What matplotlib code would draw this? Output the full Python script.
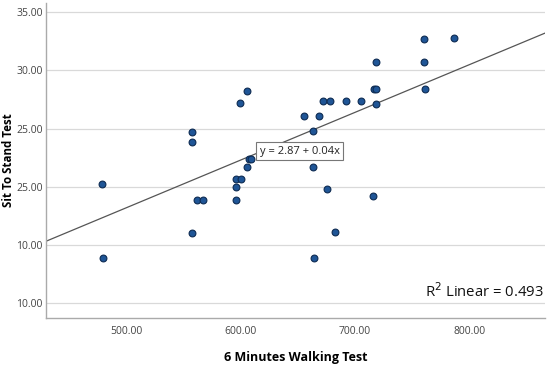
import numpy as np
import matplotlib
matplotlib.use("Agg")
import matplotlib.pyplot as plt

plt.rcParams['font.family'] = ['Open Sans', 'DejaVu Sans']

walk = [478.8, 480.0, 558.0, 558.0, 558.0, 561.6, 566.8, 596.2, 596.2, 596.2,
        600.6, 599.4, 606.0, 605.5, 607.3, 609.3, 655.2, 663.1, 663.1, 664.2,
        668.6, 671.8, 675.5, 678.2, 682.9, 692.1, 704.9, 715.7, 716.5, 718.6,
        718.3, 718.0, 760.0, 760.0, 761.0, 786.3]
stand = [20.2, 13.9, 24.7, 23.8, 16.0, 18.85, 18.85, 18.85, 20.0, 20.7,
         20.7, 27.2, 28.2, 21.7, 22.4, 22.4, 26.1, 24.75, 21.7, 13.9,
         26.1, 27.4, 19.8, 27.4, 16.1, 27.4, 27.4, 19.2, 28.4, 28.4,
         27.1, 30.7, 32.7, 30.7, 28.4, 32.8]

# fit line as drawn in the reference
fit_intercept = -2.35
fit_slope = 0.04106

yticks = [35, 30, 25, 20, 15, 10]
ytick_labels = ["35.00", "30.00", "25.00", "25.00", "10.00", "10.00"]
xticks = [500, 600, 700, 800]
xtick_labels = ["500.00", "600.00", "700.00", "800.00"]

fig = plt.figure(figsize=(5.5, 3.69), dpi=100)
ax = fig.add_axes([0.0836, 0.138, 0.9074, 0.854])
xlim = (430, 866)
ax.set_xlim(*xlim)
ax.set_ylim(8.7, 35.8)

ax.yaxis.grid(True, color='#d9d9d9', linewidth=0.9)
ax.set_axisbelow(True)

xs = np.array(xlim)
ax.plot(xs, fit_intercept + fit_slope * xs, color='#555555', linewidth=0.9, zorder=2)

ax.scatter(walk, stand, s=24, color='#1f5596', edgecolors='#0d2b52',
           linewidths=0.8, zorder=3)

ax.set_xticks(xticks)
ax.set_xticklabels(xtick_labels)
ax.set_yticks(yticks)
ax.set_yticklabels(ytick_labels)
ax.tick_params(axis='y', length=0, labelsize=7.5, colors='#444444', pad=2.5)
ax.tick_params(axis='x', length=0, labelsize=7.5, colors='#444444', pad=6)

for s in ['top', 'right']:
    ax.spines[s].set_visible(False)
for s in ['left', 'bottom']:
    ax.spines[s].set_color('#aaaaaa')
    ax.spines[s].set_linewidth(1.0)

ax.set_xlabel("6 Minutes Walking Test", fontsize=9, fontweight='bold')
ax.xaxis.set_label_coords(0.5, -0.105)
ax.set_ylabel("Sit To Stand Test", fontsize=8.3, fontweight='bold')
ax.yaxis.set_label_coords(-0.062, 0.5)

ax.text(651.7, 23.06, "y = 2.87 + 0.04x", fontsize=8, ha='center', va='center',
        color='#222222', zorder=4,
        bbox=dict(boxstyle='square,pad=0.3', facecolor='white', edgecolor='#777777', linewidth=0.8))

ax.text(0.998, 0.085, r"R$^2$ Linear = 0.493", transform=ax.transAxes, fontsize=10.7,
        ha='right', va='center', color='#111111')

fig.savefig("out.png", dpi=100)
